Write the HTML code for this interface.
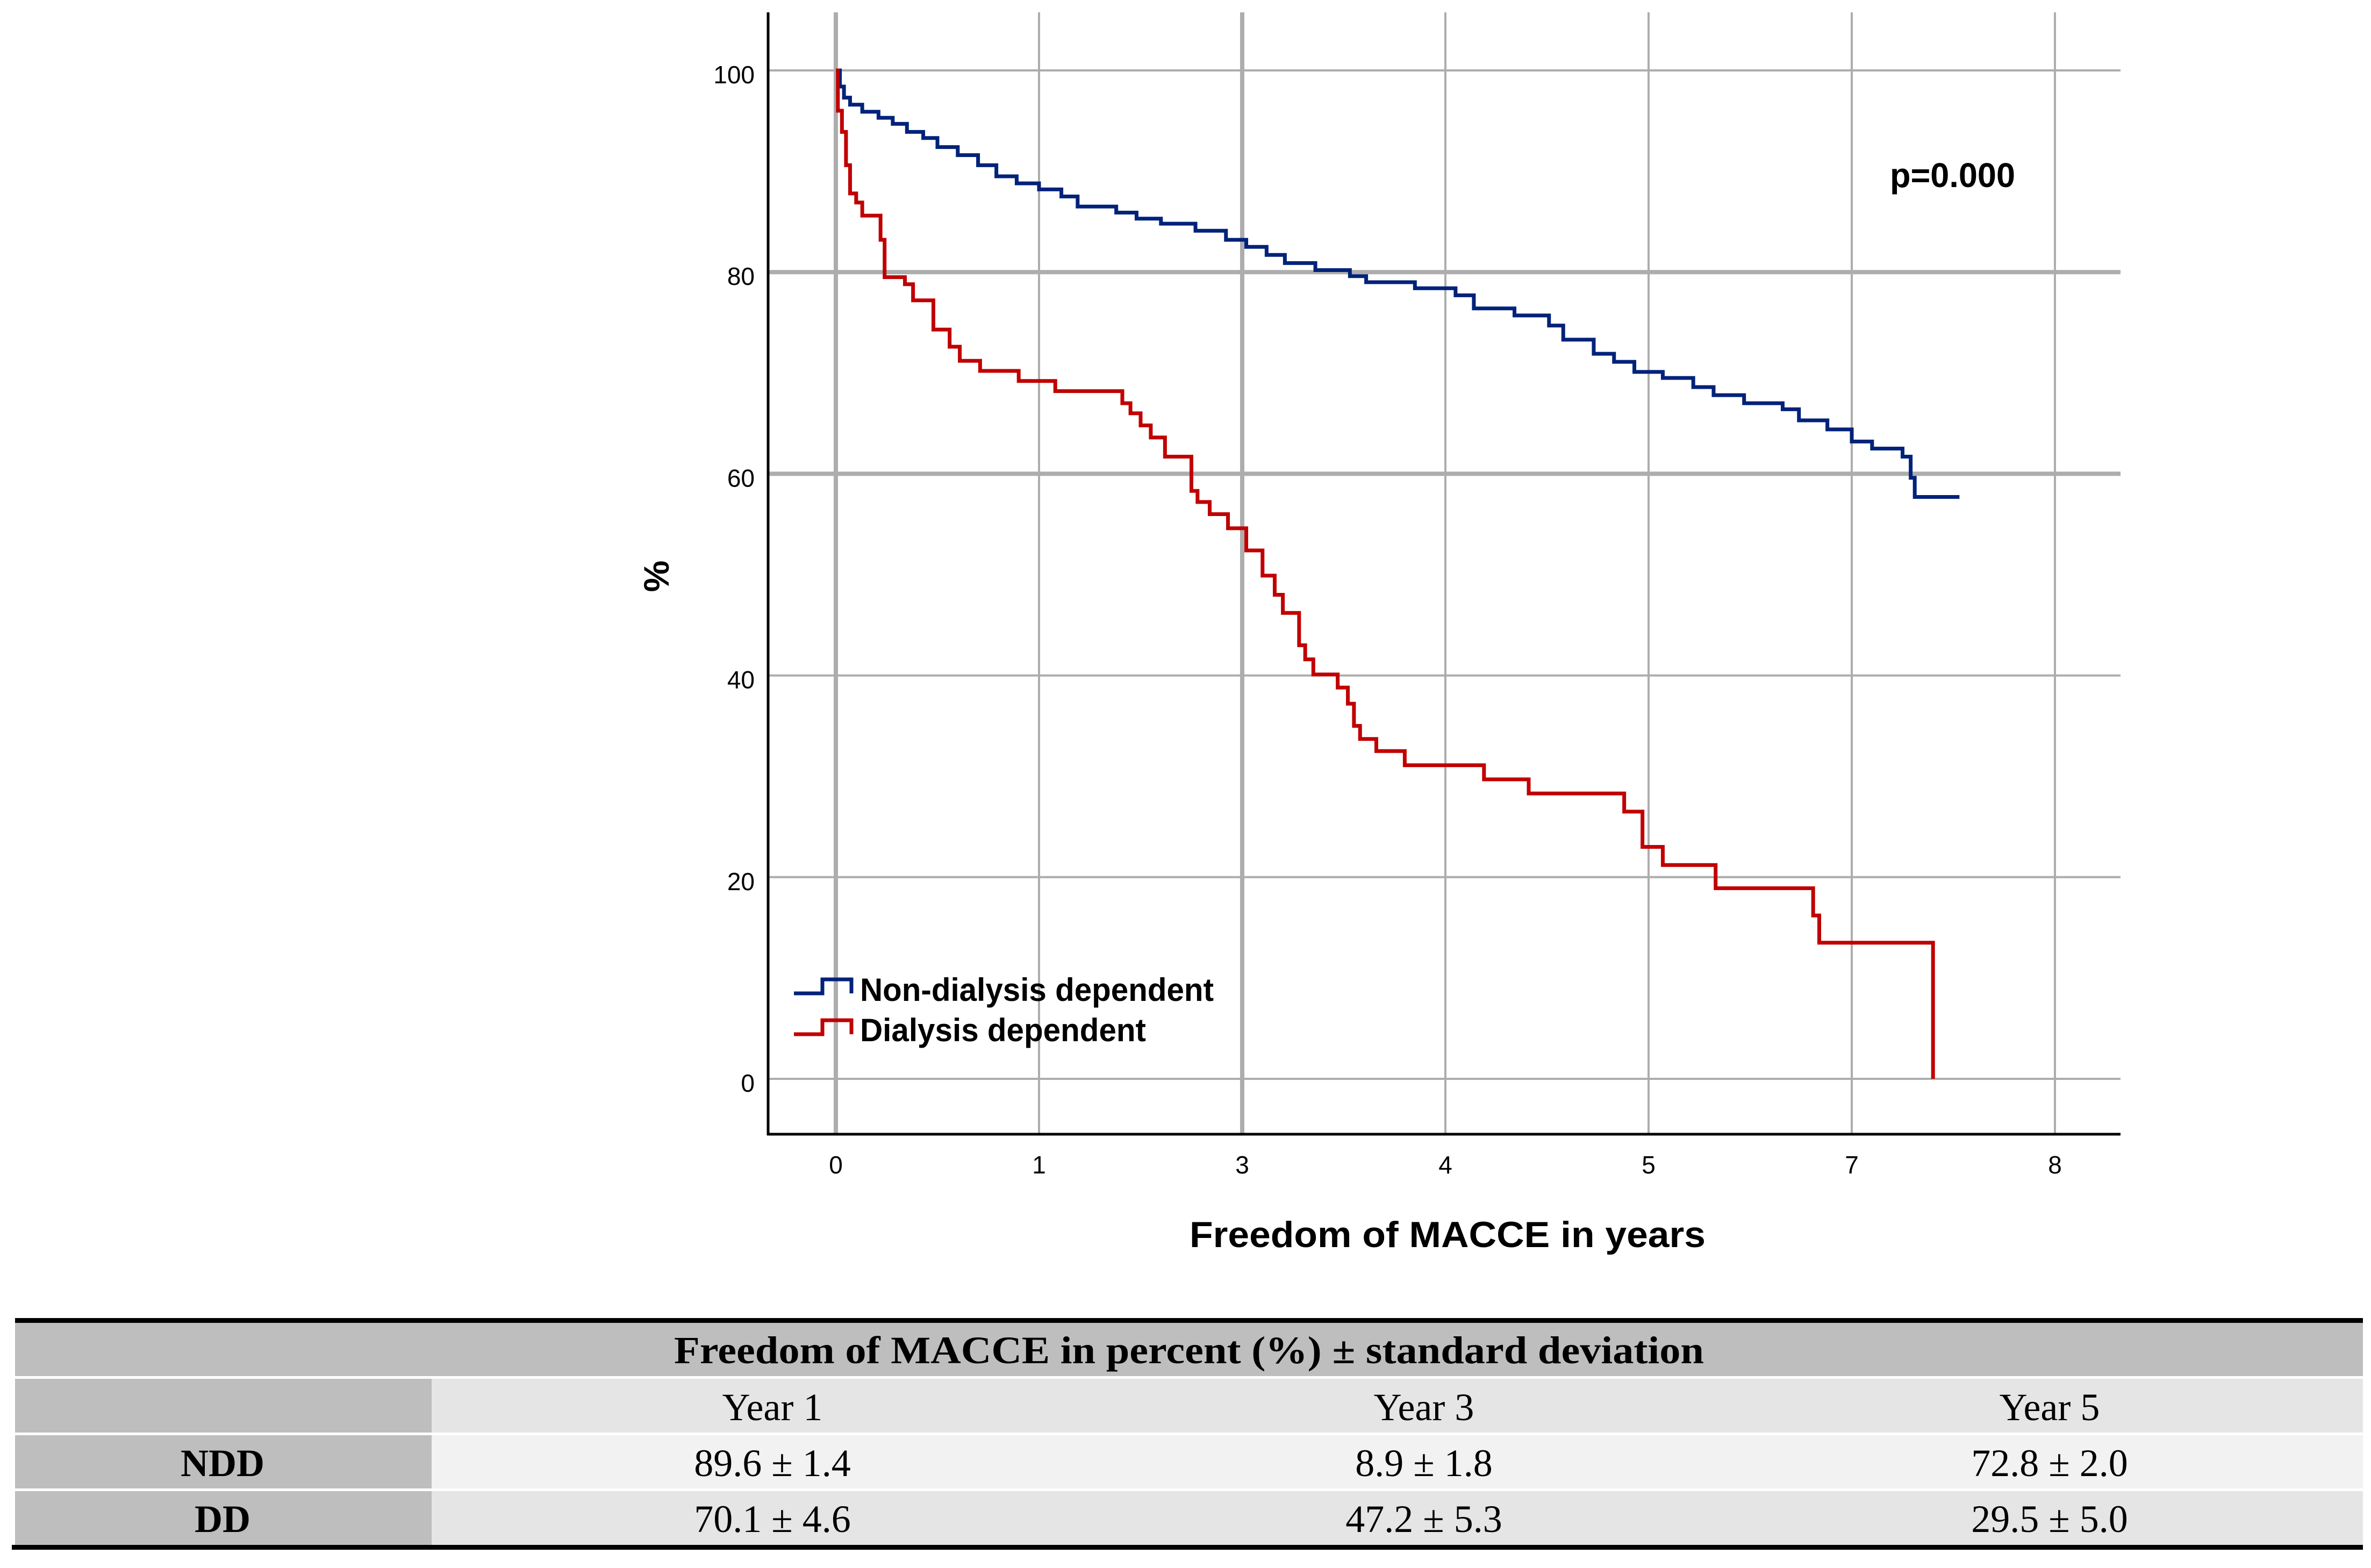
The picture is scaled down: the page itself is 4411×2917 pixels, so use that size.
<!DOCTYPE html>
<html><head><meta charset="utf-8"><style>
html,body{margin:0;padding:0;background:#fff;}
svg{display:block;}
</style></head><body>
<svg id="chart" width="4411" height="2917" viewBox="0 0 4411 2917" xmlns="http://www.w3.org/2000/svg">
<rect x="0" y="0" width="4411" height="2917" fill="#fff"/>
<g id="grid"></g>
<g id="axes"></g>
<g id="series"></g>
<text x="3516" y="348" font-family="Liberation Sans, sans-serif" font-weight="bold" font-size="64" textLength="233" lengthAdjust="spacingAndGlyphs">p=0.000</text>
<text transform="translate(1244,1072) rotate(-90)" text-anchor="middle" font-family="Liberation Sans, sans-serif" font-weight="bold" font-size="66">%</text>
<text x="2693" y="2320" text-anchor="middle" font-family="Liberation Sans, sans-serif" font-weight="bold" font-size="68" textLength="960" lengthAdjust="spacingAndGlyphs">Freedom of MACCE in years</text>
<g>
  <path d="M1477,1848 H1530 V1822 H1584 V1848" fill="none" stroke="#00227a" stroke-width="7"/>
  <text x="1600" y="1862" font-family="Liberation Sans, sans-serif" font-weight="bold" font-size="60" textLength="658" lengthAdjust="spacingAndGlyphs">Non-dialysis dependent</text>
  <path d="M1477,1924 H1530 V1898 H1584 V1924" fill="none" stroke="#c00000" stroke-width="7"/>
  <text x="1600" y="1937" font-family="Liberation Sans, sans-serif" font-weight="bold" font-size="60" textLength="532" lengthAdjust="spacingAndGlyphs">Dialysis dependent</text>
</g>
<g font-family="Liberation Serif, serif" font-size="72">
  <rect x="28" y="2452" width="4368" height="9" fill="#000"/>
  <rect x="28" y="2461" width="4368" height="99" fill="#bebebe"/>
  <text x="2212" y="2536" text-anchor="middle" font-weight="bold" font-size="72" textLength="1916" lengthAdjust="spacingAndGlyphs">Freedom of MACCE in percent (%) ± standard deviation</text>
  <rect x="28" y="2565" width="775" height="100" fill="#bebebe"/>
  <rect x="803" y="2565" width="3593" height="100" fill="#e5e5e5"/>
  <text x="1437" y="2642" text-anchor="middle">Year 1</text>
  <text x="2649" y="2642" text-anchor="middle">Year 3</text>
  <text x="3813" y="2642" text-anchor="middle">Year 5</text>
  <rect x="28" y="2670" width="775" height="99" fill="#bebebe"/>
  <rect x="803" y="2670" width="3593" height="99" fill="#f2f2f2"/>
  <text x="414" y="2746" text-anchor="middle" font-weight="bold">NDD</text>
  <text x="1437" y="2746" text-anchor="middle">89.6 ± 1.4</text>
  <text x="2649" y="2746" text-anchor="middle">8.9 ± 1.8</text>
  <text x="3813" y="2746" text-anchor="middle">72.8 ± 2.0</text>
  <rect x="28" y="2774" width="775" height="100" fill="#bebebe"/>
  <rect x="803" y="2774" width="3593" height="100" fill="#e5e5e5"/>
  <text x="414" y="2850" text-anchor="middle" font-weight="bold">DD</text>
  <text x="1437" y="2850" text-anchor="middle">70.1 ± 4.6</text>
  <text x="2649" y="2850" text-anchor="middle">47.2 ± 5.3</text>
  <text x="3813" y="2850" text-anchor="middle">29.5 ± 5.0</text>
  <rect x="22" y="2874" width="4374" height="9" fill="#000"/>
</g>
</svg>
<script>
// x values are in tick-index units (ticks equally spaced, labelled 0,1,3,4,5,7,8)
const xTickLabels = ["0","1","3","4","5","7","8"];
const yTickValues = [0,20,40,60,80,100];
const nddTimes = [0,0.02,0.04,0.07,0.13,0.21,0.28,0.35,0.43,0.50,0.60,0.70,0.79,0.89,1.00,1.11,1.19,1.38,1.48,1.60,1.77,1.92,2.02,2.12,2.21,2.36,2.53,2.61,2.85,3.05,3.14,3.34,3.51,3.58,3.73,3.83,3.93,4.07,4.22,4.32,4.47,4.66,4.74,4.88,5.00,5.10,5.25,5.29,5.31];
const nddSurv  = [100,98.4,97.3,96.6,95.9,95.3,94.7,93.9,93.3,92.4,91.6,90.6,89.5,88.8,88.2,87.5,86.5,85.9,85.3,84.8,84.1,83.2,82.5,81.7,80.9,80.2,79.6,79.0,78.4,77.7,76.4,75.7,74.7,73.3,71.9,71.1,70.1,69.5,68.6,67.8,67.0,66.4,65.3,64.4,63.2,62.5,61.7,59.6,57.7];
const nddEnd = 5.53;
const ddTimes = [0,0.01,0.03,0.05,0.07,0.10,0.13,0.22,0.24,0.34,0.38,0.48,0.56,0.61,0.71,0.90,1.08,1.41,1.45,1.50,1.55,1.62,1.75,1.78,1.84,1.93,2.02,2.10,2.16,2.20,2.28,2.31,2.35,2.47,2.52,2.55,2.58,2.66,2.80,3.19,3.41,3.88,3.97,4.07,4.33,4.81,4.84,5.40];
const ddSurv  = [100,96,93.9,90.6,87.8,86.9,85.6,83.2,79.5,78.8,77.2,74.3,72.6,71.2,70.2,69.2,68.2,67.0,66.0,64.8,63.6,61.7,58.3,57.2,56.0,54.6,52.4,49.9,48.0,46.2,43.0,41.6,40.1,38.8,37.2,35.0,33.7,32.5,31.1,29.7,28.3,26.5,23.0,21.2,18.9,16.2,13.5,0];

const NS="http://www.w3.org/2000/svg";
const X0=1555, XSTEP=378, Y0=2007, YTOP=131;
const xs = v => X0 + v*XSTEP;
const ys = v => Y0 - v*(Y0-YTOP)/100;
const FL=1429, FR=3945, FT=23, FB=2110;
function mk(tag, attrs, parent){const e=document.createElementNS(NS,tag);for(const k in attrs)e.setAttribute(k,attrs[k]);parent.appendChild(e);return e;}
const grid=document.getElementById('grid'), axes=document.getElementById('axes'), series=document.getElementById('series');
const thickX=["0","3"], thickY=[60,80];
xTickLabels.forEach((lab,i)=>{
  const l=mk('line',{x1:xs(i),x2:xs(i),y1:FT,y2:FB,stroke:'#adadad','stroke-width':thickX.includes(lab)?8:4},grid);
  
  
  const t=mk('text',{x:xs(i),y:2183,'text-anchor':'middle','font-family':'Liberation Sans, sans-serif','font-size':46},axes);
  t.textContent=lab;
  
  
});
yTickValues.forEach(v=>{
  const l=mk('line',{x1:FL,x2:FR,y1:ys(v),y2:ys(v),stroke:'#adadad','stroke-width':thickY.includes(v)?8:4},grid);
  
  
  const t=mk('text',{x:1404,y:ys(v)+24,'text-anchor':'end','font-family':'Liberation Sans, sans-serif','font-size':46},axes);
  t.textContent=String(v);
  
  
});
const la=mk('line',{x1:FL,x2:FL,y1:FT,y2:FB+2,stroke:'#000','stroke-width':5},axes);


const ba=mk('line',{x1:FL-2,x2:FR,y1:FB,y2:FB,stroke:'#000','stroke-width':5},axes);


function stepPath(times, surv, end){
  let d=`M${xs(times[0])},${ys(surv[0])}`;
  for(let i=1;i<times.length;i++){d+=` H${xs(times[i])} V${ys(surv[i])}`;}
  if(end!==undefined) d+=` H${xs(end)}`;
  return d;
}
const p1=mk('path',{d:stepPath(nddTimes,nddSurv,nddEnd),fill:'none',stroke:'#00227a','stroke-width':7},series);


const p2=mk('path',{d:stepPath(ddTimes,ddSurv),fill:'none',stroke:'#c00000','stroke-width':7},series);


</script>
</body></html>
